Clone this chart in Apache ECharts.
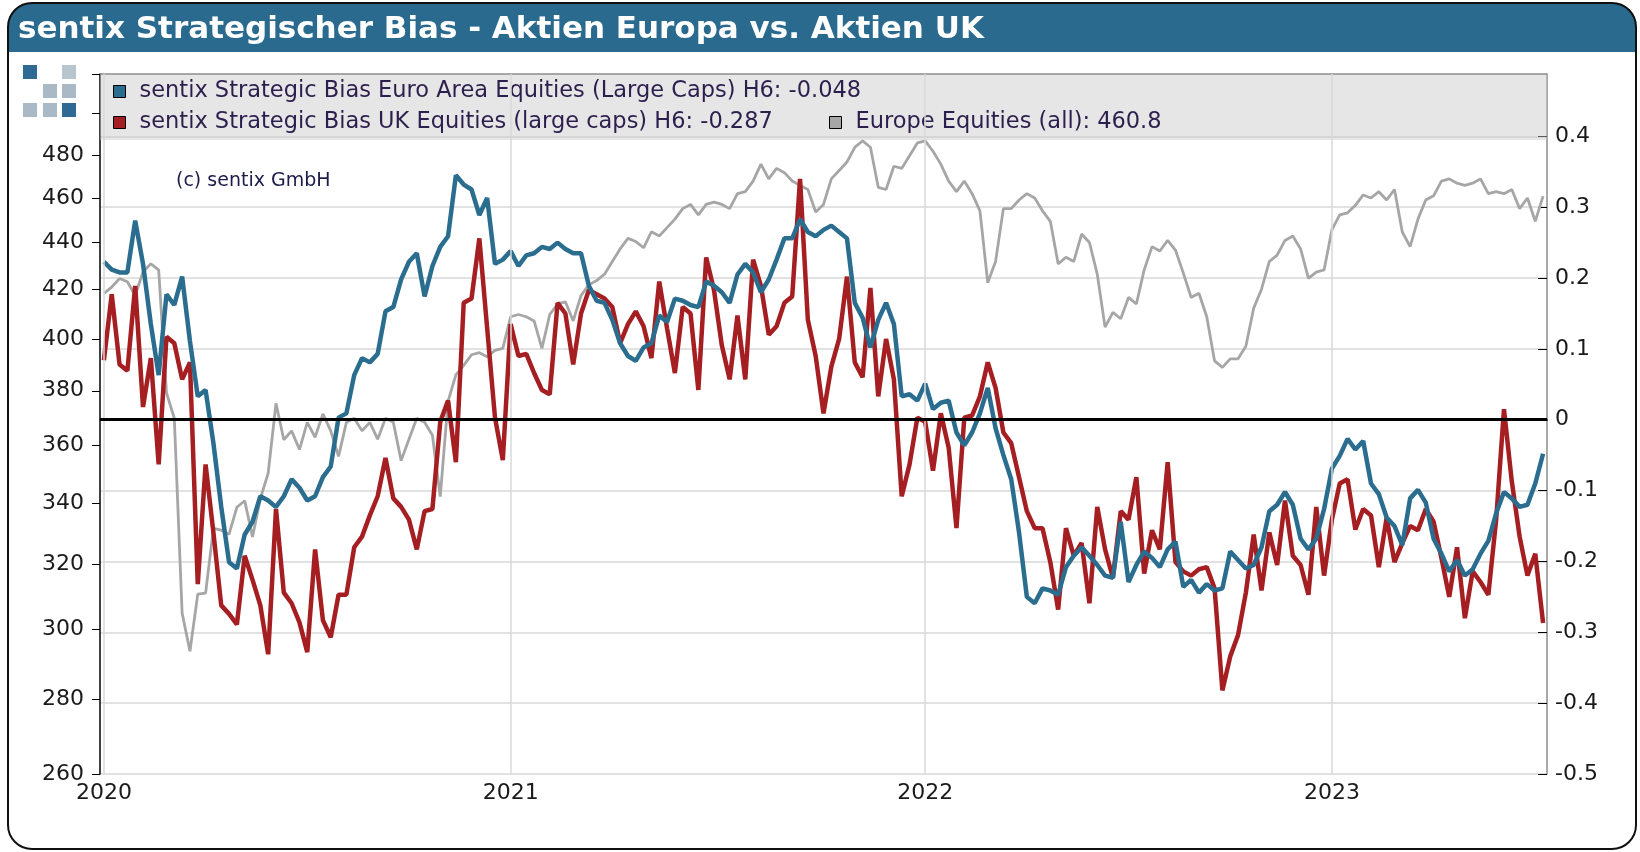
<!DOCTYPE html>
<html>
<head>
<meta charset="utf-8">
<title>sentix Strategischer Bias - Aktien Europa vs. Aktien UK</title>
<script src="https://cdn.jsdelivr.net/npm/echarts@6/dist/echarts.min.js"></script>
<style>
html, body { margin: 0; padding: 0; background: #fff; }
#chart { width: 1640px; height: 852px; }
</style>
</head>
<body>
<div id="chart"></div>
<script>
'use strict';
// weekly observations, first one on 2020-01-03
var firstWeek = '2020-01-03';
var weekCount = 185;

var euroBias = [
  0.223, 0.212, 0.208, 0.208, 0.281, 0.220, 0.135, 0.063, 0.177, 0.162,
  0.202, 0.111, 0.033, 0.042, -0.033, -0.123, -0.201, -0.210, -0.162, -0.144,
  -0.108, -0.114, -0.123, -0.108, -0.084, -0.096, -0.114, -0.108, -0.081, -0.066,
  0.003, 0.009, 0.063, 0.087, 0.081, 0.093, 0.153, 0.159, 0.198, 0.223,
  0.235, 0.174, 0.217, 0.244, 0.259, 0.345, 0.332, 0.325, 0.289, 0.313,
  0.220, 0.226, 0.238, 0.217, 0.232, 0.235, 0.244, 0.241, 0.250, 0.241,
  0.235, 0.235, 0.189, 0.168, 0.165, 0.141, 0.108, 0.090, 0.083, 0.102,
  0.108, 0.147, 0.138, 0.171, 0.168, 0.162, 0.159, 0.195, 0.189, 0.180,
  0.165, 0.205, 0.220, 0.208, 0.180, 0.198, 0.226, 0.256, 0.256, 0.283,
  0.265, 0.259, 0.268, 0.274, 0.265, 0.256, 0.165, 0.144, 0.102, 0.141,
  0.165, 0.135, 0.033, 0.036, 0.027, 0.051, 0.015, 0.024, 0.027, -0.018,
  -0.036, -0.018, 0.009, 0.045, -0.012, -0.050, -0.084, -0.159, -0.250, -0.259,
  -0.238, -0.241, -0.247, -0.208, -0.192, -0.180, -0.192, -0.205, -0.220, -0.223,
  -0.144, -0.229, -0.205, -0.186, -0.195, -0.208, -0.183, -0.172, -0.236, -0.226,
  -0.244, -0.232, -0.241, -0.238, -0.186, -0.198, -0.210, -0.205, -0.180, -0.129,
  -0.120, -0.102, -0.120, -0.168, -0.183, -0.168, -0.126, -0.069, -0.051, -0.027,
  -0.042, -0.030, -0.090, -0.105, -0.138, -0.150, -0.177, -0.111, -0.099, -0.117,
  -0.168, -0.189, -0.214, -0.198, -0.220, -0.211, -0.189, -0.171, -0.132, -0.102,
  -0.111, -0.123, -0.120, -0.090, -0.048
];

var ukBias = [
  0.084, 0.177, 0.078, 0.069, 0.189, 0.018, 0.087, -0.063, 0.117, 0.108,
  0.057, 0.081, -0.232, -0.063, -0.159, -0.262, -0.274, -0.289, -0.192, -0.226,
  -0.262, -0.331, -0.126, -0.244, -0.259, -0.286, -0.328, -0.183, -0.283, -0.307,
  -0.247, -0.247, -0.180, -0.165, -0.135, -0.108, -0.054, -0.111, -0.123, -0.141,
  -0.183, -0.129, -0.126, -0.003, 0.027, -0.060, 0.165, 0.171, 0.256, 0.129,
  0.003, -0.057, 0.135, 0.090, 0.093, 0.066, 0.042, 0.036, 0.165, 0.150,
  0.078, 0.150, 0.183, 0.177, 0.171, 0.159, 0.108, 0.135, 0.153, 0.132,
  0.087, 0.195, 0.129, 0.066, 0.159, 0.150, 0.042, 0.229, 0.183, 0.105,
  0.057, 0.147, 0.057, 0.226, 0.189, 0.120, 0.132, 0.165, 0.174, 0.340,
  0.141, 0.090, 0.009, 0.075, 0.114, 0.202, 0.081, 0.060, 0.186, 0.033,
  0.114, 0.057, -0.108, -0.063, 0.003, -0.003, -0.072, 0.009, -0.039, -0.153,
  0.003, 0.006, 0.033, 0.081, 0.045, -0.018, -0.033, -0.081, -0.129, -0.153,
  -0.153, -0.201, -0.268, -0.153, -0.192, -0.174, -0.259, -0.123, -0.183, -0.223,
  -0.129, -0.141, -0.081, -0.217, -0.156, -0.183, -0.060, -0.201, -0.214, -0.220,
  -0.211, -0.208, -0.238, -0.382, -0.334, -0.304, -0.244, -0.162, -0.241, -0.159,
  -0.205, -0.114, -0.192, -0.205, -0.247, -0.123, -0.220, -0.141, -0.090, -0.084,
  -0.155, -0.126, -0.135, -0.208, -0.138, -0.201, -0.174, -0.150, -0.156, -0.126,
  -0.144, -0.195, -0.250, -0.180, -0.280, -0.214, -0.229, -0.247, -0.141, 0.015,
  -0.087, -0.165, -0.220, -0.189, -0.287
];

var europeEquities = [
  418.5, 421.1, 424.7, 423.3, 417.6, 427.4, 430.9, 428.3, 379.2, 369.8,
  304.9, 293.6, 310.7, 311.0, 331.6, 331.0, 329.7, 338.6, 340.8, 328.8,
  341.5, 350.2, 375.3, 362.0, 365.2, 358.5, 368.3, 362.9, 371.4, 365.2,
  356.1, 368.3, 369.8, 365.2, 368.3, 362.2, 369.8, 368.3, 354.6, 362.2,
  369.8, 368.3, 363.6, 342.2, 376.1, 386.0, 389.7, 393.8, 394.6, 393.0,
  395.5, 396.3, 408.9, 409.8, 408.9, 407.2, 396.3, 409.8, 414.1, 415.0,
  407.2, 417.6, 422.0, 423.8, 426.5, 431.9, 437.3, 441.9, 440.5, 437.8,
  444.8, 442.9, 446.6, 450.4, 455.1, 457.0, 452.3, 457.0, 458.0, 457.0,
  455.1, 461.9, 462.8, 467.7, 475.6, 468.7, 473.6, 471.6, 467.7, 465.7,
  463.8, 453.6, 457.0, 468.7, 472.6, 476.6, 483.6, 486.7, 483.6, 464.8,
  463.8, 474.6, 473.6, 479.6, 485.7, 486.7, 481.7, 475.6, 467.7, 462.8,
  467.7, 461.9, 454.1, 422.9, 431.9, 455.1, 455.1, 459.0, 461.9, 459.9,
  454.1, 449.4, 430.9, 433.7, 431.9, 443.8, 440.1, 426.5, 404.7, 410.7,
  408.1, 416.8, 414.1, 428.3, 438.3, 436.4, 441.0, 436.8, 427.0, 416.8,
  418.5, 408.9, 391.4, 388.9, 392.2, 392.2, 397.1, 412.4, 420.2, 431.9,
  434.6, 441.0, 442.9, 437.3, 424.7, 427.4, 428.3, 445.7, 452.3, 453.2,
  456.6, 461.3, 459.9, 462.8, 459.0, 463.8, 444.7, 438.3, 450.4, 459.0,
  460.9, 467.7, 468.7, 466.7, 465.7, 466.7, 468.7, 461.9, 462.8, 461.9,
  463.8, 455.1, 459.9, 449.4, 460.8
];

var leftTicks = [260, 280, 300, 320, 340, 360, 380, 400, 420, 440, 460, 480, 500, 520];
var leftLabels = [260, 280, 300, 320, 340, 360, 380, 400, 420, 440, 460, 480];
var rightTicks = [-0.5, -0.4, -0.3, -0.2, -0.1, 0, 0.1, 0.2, 0.3, 0.4];

var euroName = 'sentix Strategic Bias Euro Area Equities (Large Caps)';
var ukName = 'sentix Strategic Bias UK Equities (large caps)';
var stoxxName = 'Europe Equities (all)';

var weeks = [];
(function () {
  var t = new Date(firstWeek + 'T00:00:00Z').getTime();
  for (var i = 0; i < weekCount; i++) {
    weeks.push(new Date(t + i * 7 * 86400000).toISOString().slice(0, 10));
  }
})();

var isYearStart = function (idx) {
  return idx === 0 || weeks[idx].slice(0, 4) !== weeks[idx - 1].slice(0, 4);
};
var yearLines = [];
weeks.forEach(function (w, i) {
  if (isYearStart(i)) {
    yearLines.push({ xAxis: w, lineStyle: { color: '#d9d9d9', width: 1.5, type: 'solid' } });
  }
});

var FONT = 'DejaVu Sans';
var lastOf = function (a) { return a[a.length - 1]; };

var legendBase = {
  orient: 'horizontal',
  icon: 'rect',
  itemWidth: 12,
  itemHeight: 12,
  padding: 0,
  selectedMode: false,
  itemStyle: { borderColor: '#000', borderWidth: 1 },
  textStyle: { fontFamily: FONT, fontSize: 22.5, color: '#2d1f4d', padding: [0, 0, 0, 9] },
  formatter: function (name) {
    if (name === euroName) return name + ' H6: ' + lastOf(euroBias).toFixed(3);
    if (name === ukName) return name + ' H6: ' + lastOf(ukBias).toFixed(3);
    return name + ': ' + lastOf(europeEquities).toFixed(1);
  }
};

var logoSquares = [
  [23, 65, '#2f6a94'], [62, 65, '#b9c5ce'],
  [43, 84, '#a9b9c6'], [62, 84, '#a9b9c6'],
  [23, 103, '#a9b9c6'], [43, 103, '#a9b9c6'], [62, 103, '#2f6a94']
];

var myChart = echarts.init(document.getElementById('chart'));
var option = {
  animation: false,
  backgroundColor: '#fff',
  grid: { left: 100, right: 93, top: 74, bottom: 78 },
  legend: [
    echarts.util.merge({ data: [euroName], left: 113, top: 80 }, legendBase),
    echarts.util.merge({ data: [ukName], left: 113, top: 111 }, legendBase),
    echarts.util.merge({ data: [stoxxName], left: 829, top: 111 }, legendBase)
  ],
  xAxis: {
    type: 'category',
    data: weeks,
    boundaryGap: true,
    axisLine: { lineStyle: { color: '#333', width: 2 } },
    axisTick: { alignWithLabel: true, interval: isYearStart, length: 5, lineStyle: { color: '#000' } },
    axisLabel: {
      interval: isYearStart,
      formatter: function (v) { return v.slice(0, 4); },
      fontFamily: FONT, fontSize: 22, color: '#1a1a1a', margin: 8
    },
    splitLine: { show: false }
  },
  yAxis: [{
    type: 'log',
    logBase: 10,
    min: 260,
    max: 520,
    position: 'left',
    axisLine: { show: true, lineStyle: { color: '#000', width: 1.5 } },
    axisTick: { show: true, length: 8, customValues: leftTicks, lineStyle: { color: '#000' } },
    axisLabel: { customValues: leftLabels, fontFamily: FONT, fontSize: 22, color: '#1a1a1a', margin: 16 },
    splitLine: { show: false },
    minorTick: { show: false }
  }, {
    type: 'value',
    min: -0.5,
    max: 0.488,
    interval: 0.1,
    position: 'right',
    axisLine: { show: true, lineStyle: { color: '#8c8c8c', width: 1.5 } },
    axisTick: { show: true, inside: true, length: 9, customValues: rightTicks, lineStyle: { color: '#000' } },
    axisLabel: { customValues: rightTicks, fontFamily: FONT, fontSize: 22, color: '#1a1a1a', margin: 8 },
    splitLine: { show: true, lineStyle: { color: '#d9d9d9', width: 1.5 } }
  }],
  series: [{
    name: 'grid',
    type: 'line',
    data: [],
    yAxisIndex: 1,
    z: 1,
    silent: true,
    markLine: {
      symbol: 'none',
      silent: true,
      label: { show: false },
      data: yearLines.concat([{ yAxis: 0, lineStyle: { color: '#000', width: 3, type: 'solid' } }])
    }
  }, {
    name: stoxxName,
    type: 'line',
    yAxisIndex: 0,
    data: europeEquities,
    symbol: 'none',
    z: 2,
    itemStyle: { color: '#a6a6a6' },
    lineStyle: { color: '#a6a6a6', width: 2.8 }
  }, {
    name: ukName,
    type: 'line',
    yAxisIndex: 1,
    data: ukBias,
    symbol: 'none',
    z: 3,
    itemStyle: { color: '#a51e22' },
    lineStyle: { color: '#a51e22', width: 4.5 }
  }, {
    name: euroName,
    type: 'line',
    yAxisIndex: 1,
    data: euroBias,
    symbol: 'none',
    z: 4,
    itemStyle: { color: '#2a6d8f' },
    lineStyle: { color: '#2a6d8f', width: 4.5 }
  }],
  graphic: [
    { type: 'rect', z: 1, silent: true, shape: { x: 100, y: 74, width: 1447, height: 66 },
      style: { fill: 'rgba(200,200,200,0.45)' } },
    { type: 'line', z: 1, silent: true, shape: { x1: 100, y1: 74, x2: 1547, y2: 74 },
      style: { stroke: '#8c8c8c', lineWidth: 1.5 } },
    { type: 'rect', z: 10, silent: true, shape: { x: 8, y: 3, width: 1628, height: 49, r: [22, 22, 0, 0] },
      style: { fill: '#2a6a8f' } },
    { type: 'text', z: 11, silent: true, x: 18, y: 30,
      style: { text: 'sentix Strategischer Bias - Aktien Europa vs. Aktien UK', fill: '#fff',
        fontFamily: FONT, fontWeight: 'bold', fontSize: 31, verticalAlign: 'middle' } },
    { type: 'rect', z: 12, silent: true, shape: { x: 8, y: 3, width: 1628, height: 846, r: 24 },
      style: { fill: 'none', stroke: '#111', lineWidth: 2 } },
    { type: 'text', z: 11, silent: true, x: 176, y: 181,
      style: { text: '(c) sentix GmbH', fill: '#1c1c4a', fontFamily: FONT, fontSize: 19, verticalAlign: 'middle' } }
  ].concat(logoSquares.map(function (s) {
    return { type: 'rect', z: 11, silent: true, shape: { x: s[0], y: s[1], width: 14, height: 14 }, style: { fill: s[2] } };
  }))
};
myChart.setOption(option);
window.onresize = myChart.resize;
</script>
</body>
</html>
